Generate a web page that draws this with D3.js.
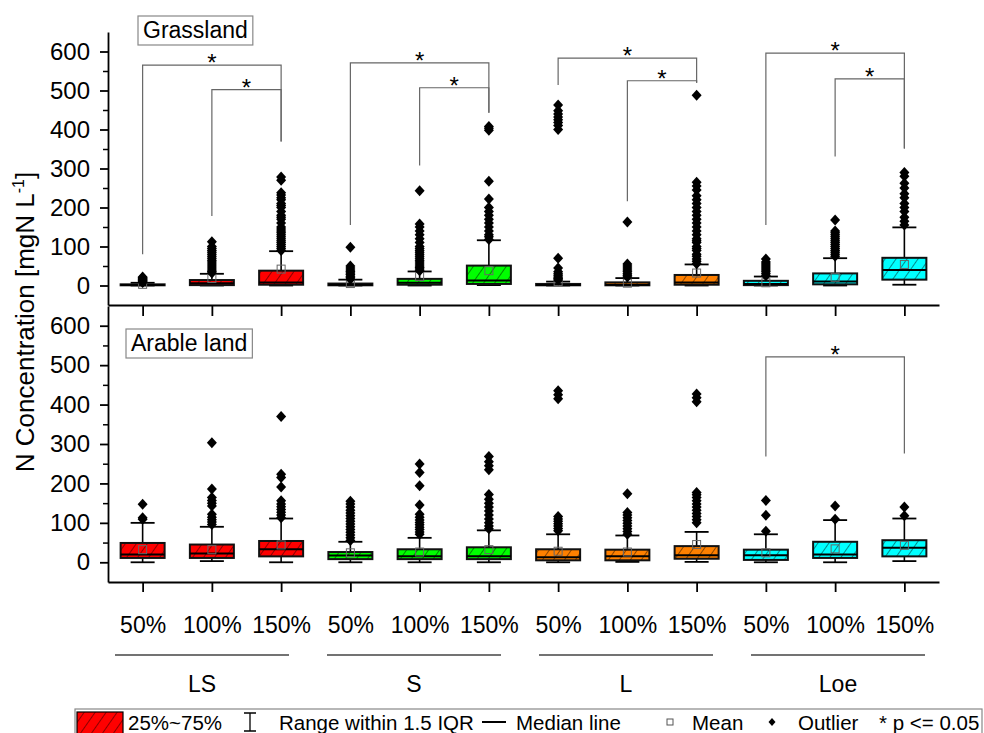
<!DOCTYPE html>
<html>
<head>
<meta charset="UTF-8">
<title>N Concentration by soil and fertilisation level</title>
<style>
  body { margin: 0; background: #ffffff; }
  svg { display: block; font-family: "Liberation Sans", Arial, sans-serif; }
</style>
</head>
<body>
<svg></svg>
<script src="https://d3js.org/d3.v7.min.js"></script>
<script>

// categories
const groups = ["LS", "S", "L", "Loe"];
const levels = ["50%", "100%", "150%"];
const groupColors = ["#ff0000", "#00ff00", "#ff8000", "#00ffff"];
const yTicks = [0, 100, 200, 300, 400, 500, 600];
const yMinorTicks = [50, 150, 250, 350, 450, 550];

// Grassland: LS 50/100/150, S 50/100/150, L ..., Loe ...
const grassLow  = [0, 0, 0, 0, 0, 1, 0, 0, 0, 0, 0, 2];
const grassQ1   = [0.5, 1, 2, 0.5, 2, 4, 0.5, 0.5, 2, 1, 3, 15];
const grassMed  = [1.5, 6, 8, 2, 7, 13, 1.5, 2, 8, 4, 10, 40];
const grassQ3   = [3, 14, 38, 5, 17, 51, 4, 8, 27, 12, 31, 71];
const grassHigh = [7, 30, 88, 15, 36, 116, 10, 19, 54, 23, 70, 149];
const grassMean = [3, 18, 42, 5, 23, 38, 10, 6, 32, 7, 21, 54];
const grassOut = [
  [8, 10, 12, 14, 16, 18, 20, 22],
  [32, 36, 40, 45, 50, 55, 60, 65, 70, 75, 80, 85, 90, 95, 100, 112],
  [90, 95, 100, 105, 110, 115, 120, 125, 130, 135, 140, 145, 150, 160, 170, 175, 180, 190, 200, 205, 210, 220, 225, 232, 238, 270, 278],
  [16, 20, 24, 28, 32, 36, 40, 45, 50, 98],
  [38, 42, 46, 50, 55, 60, 65, 70, 75, 80, 85, 90, 95, 100, 110, 120, 130, 140, 150, 158, 243],
  [118, 125, 130, 140, 150, 160, 170, 180, 190, 200, 222, 267, 398, 403, 408],
  [14, 18, 22, 26, 30, 35, 45, 70, 400, 410, 418, 425, 432, 440, 448, 463],
  [22, 26, 30, 35, 40, 45, 50, 55, 163],
  [56, 62, 68, 75, 80, 90, 95, 100, 110, 115, 120, 130, 140, 150, 160, 170, 180, 190, 200, 210, 220, 230, 245, 255, 265, 488],
  [25, 30, 35, 40, 45, 50, 55, 60, 68],
  [75, 80, 85, 90, 95, 100, 105, 110, 115, 120, 125, 130, 135, 140, 168],
  [155, 165, 175, 190, 200, 210, 225, 235, 250, 262, 280, 290]
];
// [from box, to box, bar value, left leg end, right leg end]
const grassBrackets = [
  [1, 3, 565, 80, 369], [2, 3, 502, 178, 369],
  [4, 6, 571, 155, 443], [5, 6, 507, 308, 443],
  [7, 9, 583, 514, 520], [8, 9, 525, 216, 520],
  [10, 12, 596, 155, 351], [11, 12, 530, 331, 351]
];

// Arable land
const arableLow  = [0, 3, 0, 0, 0, 0, 0, 1, 1, 0, 0, 3];
const arableQ1   = [11, 11, 15, 8, 8, 8, 5, 5, 9, 6, 11, 15];
const arableMed  = [20, 22, 33, 17, 15, 15, 13, 15, 18, 18, 20, 37];
const arableQ3   = [49, 45, 54, 26, 33, 38, 33, 32, 41, 32, 52, 56];
const arableHigh = [100, 90, 111, 52, 62, 81, 71, 68, 77, 71, 107, 111];
const arableMean = [32, 32, 44, 24, 26, 32, 28, 26, 45, 24, 34, 43];
const arableOut = [
  [109, 113, 147],
  [96, 102, 108, 114, 122, 143, 150, 157, 164, 186, 303],
  [113, 120, 127, 134, 141, 148, 156, 191, 215, 223, 370],
  [55, 62, 69, 76, 83, 90, 97, 104, 111, 118, 125, 132, 140, 148, 155],
  [71, 77, 83, 89, 95, 101, 107, 114, 122, 145, 194, 228, 249],
  [85, 92, 100, 110, 120, 130, 140, 150, 160, 172, 235, 245, 255, 268],
  [80, 86, 92, 98, 104, 110, 116, 415, 425, 435],
  [71, 78, 85, 92, 99, 106, 113, 120, 126, 174],
  [100, 108, 116, 124, 132, 140, 148, 156, 164, 171, 177, 407, 417, 427],
  [79, 119, 157],
  [109, 143],
  [118, 140]
];
const arableBrackets = [[10, 12, 521, 268, 276]];

const width = 984, height = 733;
const svg = d3.select("svg").attr("width", width).attr("height", height);

const x = d3.scaleLinear().domain([0.5, 12.5]).range([108, 939]);
const yTop = d3.scaleLinear().domain([-50, 650]).range([305, 32]);
const yBot = d3.scaleLinear().domain([-50, 650]).range([582, 306]);
const boxW = 44, capW = 24;

// hatched fills
const defs = svg.append("defs");
groupColors.forEach((c, i) => {
  const p = defs.append("pattern")
    .attr("id", "hatch" + i)
    .attr("patternUnits", "userSpaceOnUse")
    .attr("width", 9).attr("height", 9)
    .attr("patternTransform", "rotate(35)");
  p.append("rect").attr("width", 9).attr("height", 9).attr("fill", c);
  p.append("line").attr("x1", 0).attr("y1", 0).attr("x2", 0).attr("y2", 9)
    .attr("stroke", "#000").attr("stroke-width", 0.9);
});

function diamond(r) {
  return `M0,${-r - 0.5}L${r},0L0,${r + 0.5}L${-r},0Z`;
}

function drawPanel(y, low, q1, med, q3, high, mean, outs, brackets, label) {
  const g = svg.append("g");
  const boxes = d3.range(12).map(i => ({
    pos: i + 1, color: Math.floor(i / 3),
    low: low[i], q1: q1[i], med: med[i], q3: q3[i], high: high[i], mean: mean[i], out: outs[i]
  }));

  // y axis
  g.append("g").attr("transform", `translate(${x.range()[0]},0)`)
    .call(d3.axisLeft(y).tickValues(yMinorTicks).tickSize(5).tickFormat("").tickSizeOuter(0))
    .call(a => a.select(".domain").remove())
    .selectAll("line").attr("stroke-width", 1.5);
  const ya = g.append("g").attr("transform", `translate(${x.range()[0]},0)`)
    .call(d3.axisLeft(y).tickValues(yTicks).tickSize(8).tickPadding(10).tickSizeOuter(0));
  ya.attr("font-size", 24).attr("font-family", null);
  ya.selectAll("line, path").attr("stroke-width", 1.8);

  // boxes and whiskers
  const bg = g.append("g").selectAll("g").data(boxes).join("g");
  bg.append("line")
    .attr("x1", d => x(d.pos)).attr("x2", d => x(d.pos))
    .attr("y1", d => y(d.low)).attr("y2", d => y(d.high))
    .attr("stroke", "#000").attr("stroke-width", 1.6);
  bg.selectAll(".cap").data(d => [[d.pos, d.low], [d.pos, d.high]]).join("line")
    .attr("x1", d => x(d[0]) - capW / 2).attr("x2", d => x(d[0]) + capW / 2)
    .attr("y1", d => y(d[1])).attr("y2", d => y(d[1]))
    .attr("stroke", "#000").attr("stroke-width", 1.8);
  bg.append("rect")
    .attr("x", d => x(d.pos) - boxW / 2).attr("width", boxW)
    .attr("y", d => y(d.q3)).attr("height", d => y(d.q1) - y(d.q3))
    .attr("fill", d => `url(#hatch${d.color})`)
    .attr("stroke", "#111").attr("stroke-width", 2);
  bg.append("line")
    .attr("x1", d => x(d.pos) - boxW / 2).attr("x2", d => x(d.pos) + boxW / 2)
    .attr("y1", d => y(d.med)).attr("y2", d => y(d.med))
    .attr("stroke", "#000").attr("stroke-width", 2);
  bg.append("rect")
    .attr("x", d => x(d.pos) - 4).attr("y", d => y(d.mean) - 4)
    .attr("width", 8).attr("height", 8)
    .attr("fill", "none").attr("stroke", "#666").attr("stroke-width", 1);
  bg.selectAll("path").data(d => d.out.map(v => [d.pos, v])).join("path")
    .attr("d", diamond(5))
    .attr("transform", d => `translate(${x(d[0])},${y(d[1])})`)
    .attr("fill", "#000");

  // significance brackets
  const br = g.append("g").selectAll("g").data(brackets).join("g");
  br.append("path")
    .attr("d", d => `M${x(d[0])},${y(d[3])}V${y(d[2])}H${x(d[1])}V${y(d[4])}`)
    .attr("fill", "none").attr("stroke", "#666").attr("stroke-width", 1.2);
  br.append("text")
    .attr("x", d => (x(d[0]) + x(d[1])) / 2)
    .attr("y", d => y(d[2]) + 6)
    .attr("text-anchor", "middle").attr("font-size", 24)
    .text("*");

  // panel label
  const lb = g.append("g");
  const lt = lb.append("text").attr("font-size", 23).text(label.text)
    .attr("x", label.x).attr("y", label.y);
  const bb = lt.node().getBBox();
  lb.insert("rect", "text")
    .attr("x", bb.x - 5).attr("y", bb.y - 1).attr("width", bb.width + 10).attr("height", bb.height + 3)
    .attr("fill", "#fff").attr("stroke", "#888").attr("stroke-width", 1.2);
  return g;
}

drawPanel(yTop, grassLow, grassQ1, grassMed, grassQ3, grassHigh, grassMean, grassOut, grassBrackets,
  { text: "Grassland", x: 143, y: 38 });
drawPanel(yBot, arableLow, arableQ1, arableMed, arableQ3, arableHigh, arableMean, arableOut, arableBrackets,
  { text: "Arable land", x: 131, y: 351 });

// x axes
svg.append("g").attr("transform", `translate(0,${yTop.range()[0]})`)
  .call(d3.axisBottom(x).tickValues(d3.range(1, 13)).tickSize(11).tickFormat("").tickSizeOuter(0))
  .selectAll("line, path").attr("stroke-width", 1.8);
const xa = svg.append("g").attr("transform", `translate(0,${yBot.range()[0]})`)
  .call(d3.axisBottom(x).tickValues(d3.range(1, 13)).tickSize(10).tickPadding(25).tickSizeOuter(0)
    .tickFormat(i => levels[(i - 1) % 3]));
xa.attr("font-size", 23).attr("font-family", null);
xa.selectAll("line, path").attr("stroke-width", 1.8);

// group labels
const gx = d3.scaleBand().domain(groups).range([96, 944]);
svg.append("g").selectAll("line").data(groups).join("line")
  .attr("x1", d => gx(d) + gx.bandwidth() / 2 - 87).attr("x2", d => gx(d) + gx.bandwidth() / 2 + 87)
  .attr("y1", 655).attr("y2", 655).attr("stroke", "#444").attr("stroke-width", 1.3);
svg.append("g").selectAll("text").data(groups).join("text")
  .attr("x", d => gx(d) + gx.bandwidth() / 2).attr("y", 692)
  .attr("text-anchor", "middle").attr("font-size", 23).text(d => d);

// y title
svg.append("text")
  .attr("transform", "translate(34,322) rotate(-90)")
  .attr("text-anchor", "middle").attr("font-size", 26)
  .call(t => {
    t.append("tspan").text("N Concentration [mgN L");
    t.append("tspan").attr("font-size", 16).attr("dy", -10).text("-1");
    t.append("tspan").attr("dy", 10).text("]");
  });

// legend
const lg = svg.append("g");
lg.append("rect").attr("x", 75).attr("y", 709).attr("width", 907).attr("height", 40)
  .attr("fill", "#fff").attr("stroke", "#888").attr("stroke-width", 1.2);
lg.append("rect").attr("x", 77).attr("y", 712).attr("width", 46).attr("height", 30)
  .attr("fill", "url(#hatch0)").attr("stroke", "#000").attr("stroke-width", 1.2);
lg.append("path").attr("d", "M244,713H256M250,713V731M244,731H256")
  .attr("stroke", "#000").attr("stroke-width", 1.3).attr("fill", "none");
lg.append("line").attr("x1", 482).attr("x2", 506).attr("y1", 722).attr("y2", 722)
  .attr("stroke", "#000").attr("stroke-width", 2);
lg.append("rect").attr("x", 667).attr("y", 719).attr("width", 6).attr("height", 6)
  .attr("fill", "none").attr("stroke", "#555").attr("stroke-width", 1);
lg.append("path").attr("d", diamond(3.5)).attr("transform", "translate(772,722)").attr("fill", "#000");
const legendTexts = [["25%~75%", 128], ["Range within 1.5 IQR", 279], ["Median line", 516],
  ["Mean", 692], ["Outlier", 798], ["* p <= 0.05", 879]];
lg.selectAll("text").data(legendTexts).join("text")
  .attr("x", d => d[1]).attr("y", 730).attr("font-size", 20.5).text(d => d[0]);

</script>
</body>
</html>
